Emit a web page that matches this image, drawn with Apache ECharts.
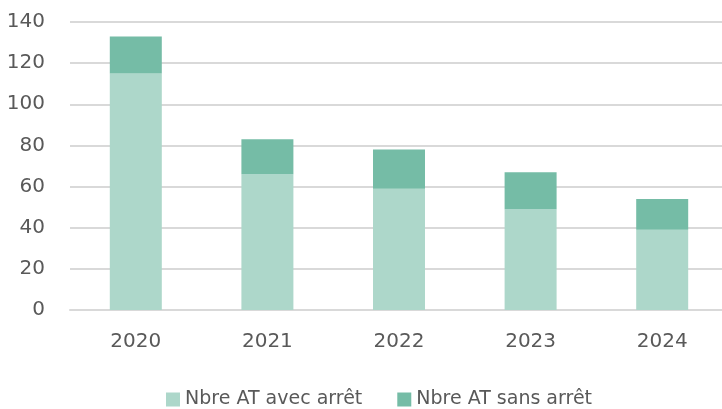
<!DOCTYPE html>
<html><head><meta charset="utf-8">
<script src="https://cdn.jsdelivr.net/npm/echarts@6/dist/echarts.min.js"></script>
<style>html,body{margin:0;padding:0;background:#fff}#c{width:722px;height:409px}</style>
</head><body><div id="c"></div>
<script>
const categories = ['2020','2021','2022','2023','2024'];
const avecArret = [115, 66, 59, 49, 39];
const sansArret = [18, 17, 19, 18, 15];
const seriesNames = ['Nbre AT avec arrêt', 'Nbre AT sans arrêt'];
const yTicks = {min: 0, max: 140, interval: 20};

const font = 'DejaVu Sans';
const chart = echarts.init(document.getElementById('c'), null, {renderer: 'canvas'});
chart.setOption({
  animation: false,
  grid: {left: 70, top: 22, right: -6, bottom: 99, containLabel: false, outerBoundsMode: 'none'},
  legend: {
    top: 385, left: 161, itemWidth: 14, itemHeight: 14, itemGap: 35,
    icon: 'rect',
    textStyle: {fontFamily: font, fontSize: 19, color: '#595959'},
    data: seriesNames
  },
  xAxis: {
    type: 'category', data: categories,
    axisLine: {lineStyle: {color: '#D9D9D9', width: 2}},
    axisTick: {show: false},
    axisLabel: {fontFamily: font, fontSize: 20, color: '#595959', margin: 22}
  },
  yAxis: {
    type: 'value', min: yTicks.min, max: yTicks.max, interval: yTicks.interval,
    axisLine: {show: false}, axisTick: {show: false},
    splitLine: {lineStyle: {color: '#D9D9D9', width: 2}},
    axisLabel: {fontFamily: font, fontSize: 20, color: '#595959', margin: 25}
  },
  series: [
    {name: seriesNames[0], type: 'bar', stack: 'a', data: avecArret, barWidth: 52,
     itemStyle: {color: '#ADD7CA'}},
    {name: seriesNames[1], type: 'bar', stack: 'a', data: sansArret, barWidth: 52,
     itemStyle: {color: '#75BCA6'}}
  ]
});
</script></body></html>
